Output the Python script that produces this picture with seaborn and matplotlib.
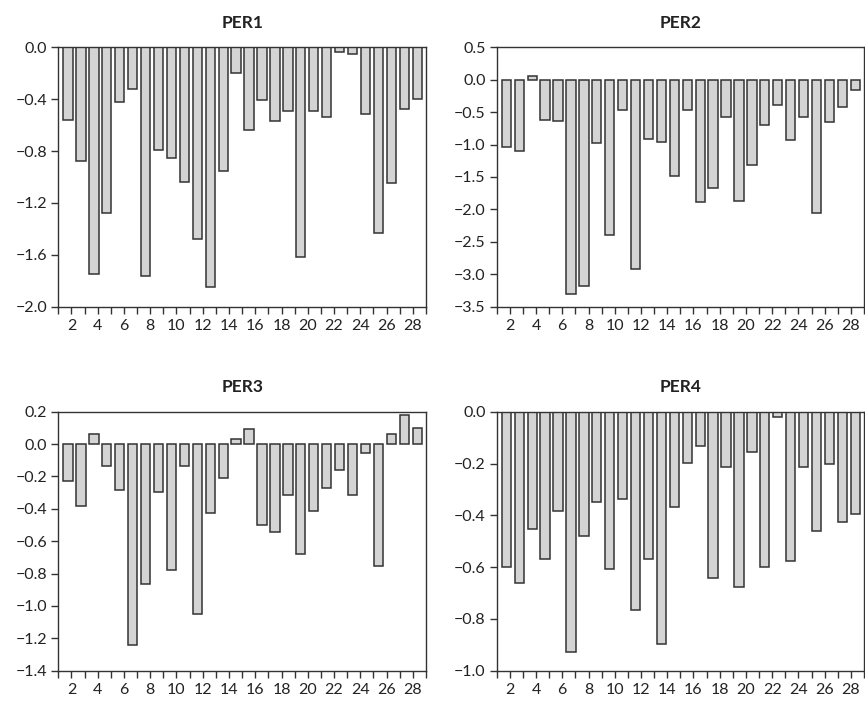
import numpy as np
import pandas as pd
import matplotlib
matplotlib.use("Agg")
import matplotlib.pyplot as plt
import seaborn as sns

# ---- data ----
items = list(range(1, 29))
per1 = [-0.56, -0.88, -1.75, -1.28, -0.42, -0.32, -1.76, -0.79, -0.85, -1.04,
        -1.475, -1.85, -0.95, -0.196, -0.635, -0.406, -0.566, -0.491, -1.62, -0.494,
        -0.54, -0.036, -0.054, -0.514, -1.43, -1.05, -0.473, -0.40]
per2 = [-1.04, -1.10, 0.05, -0.62, -0.64, -3.31, -3.18, -0.97, -2.40, -0.47,
        -2.92, -0.91, -0.956, -1.48, -0.473, -1.89, -1.675, -0.58, -1.875, -1.31,
        -0.694, -0.39, -0.93, -0.58, -2.06, -0.647, -0.42, -0.164]
per3 = [-0.227, -0.381, 0.064, -0.134, -0.282, -1.244, -0.865, -0.294, -0.78, -0.136,
        -1.048, -0.426, -0.212, 0.03, 0.093, -0.498, -0.544, -0.313, -0.678, -0.414,
        -0.274, -0.161, -0.313, -0.054, -0.754, 0.064, 0.181, 0.097]
per4 = [-0.598, -0.663, -0.453, -0.568, -0.384, -0.929, -0.481, -0.35, -0.609, -0.337,
        -0.764, -0.568, -0.898, -0.367, -0.198, -0.131, -0.642, -0.215, -0.677, -0.156,
        -0.598, -0.021, -0.575, -0.212, -0.462, -0.203, -0.426, -0.396]
titles = ["PER1", "PER2", "PER3", "PER4"]
series = [per1, per2, per3, per4]
ylims = [(-2.0, 0.0), (-3.5, 0.5), (-1.4, 0.2), (-1.0, 0.0)]
ysteps = [0.4, 0.5, 0.2, 0.2]
xtick_labels = [str(v) for v in range(2, 29, 2)]

# ---- style ----
sns.set_style("ticks")
plt.rcParams["font.family"] = ["Lato", "DejaVu Sans"]
dark = "#333333"
plt.rcParams.update({
    "axes.edgecolor": dark,
    "axes.linewidth": 1.0,
    "xtick.color": dark,
    "ytick.color": dark,
    "xtick.labelcolor": "#222222",
    "ytick.labelcolor": "#222222",
    "xtick.major.size": 5,
    "ytick.major.size": 5,
    "xtick.major.width": 1.0,
    "ytick.major.width": 1.0,
})

W, H = 865, 703
fig = plt.figure(figsize=(W / 100, H / 100), dpi=100)

# axes boxes in pixels: left, right, top, bottom
boxes = [(58.3, 426.0, 47.3, 306.7), (496.7, 864.0, 47.3, 306.7),
         (58.3, 426.0, 411.7, 670.7), (496.7, 864.0, 411.7, 670.7)]

xlo, xhi = 0.25, 28.68


def fmt(v):
    v = round(float(v), 2) + 0.0
    if abs(v) < 1e-9:
        v = 0.0
    s = f"{abs(v):.1f}"
    return ("\u2212" + s) if v < 0 else s


for title, vals, ylim, step, (l, r, t, b) in zip(titles, series, ylims, ysteps, boxes):
    ax = fig.add_axes([l / W, 1 - b / H, (r - l) / W, (b - t) / H])
    df = pd.DataFrame({"item": items, "value": vals})
    sns.barplot(data=df, x="item", y="value", native_scale=True, width=0.72,
                color="#d4d4d4", saturation=1, edgecolor="#333333", linewidth=1.1,
                ax=ax)
    ax.set_xlim(xlo, xhi)
    ax.set_ylim(*ylim)
    ticks = np.linspace(xlo, xhi, 29)
    ax.set_xticks(ticks)
    labels = [""] * 29
    for k, lab in zip(range(1, 29, 2), xtick_labels):
        labels[k] = lab
    ax.set_xticklabels(labels, fontsize=11.5)
    yt = np.arange(ylim[0], ylim[1] + step / 2, step)
    ax.set_yticks(yt)
    ax.set_yticklabels([fmt(v) for v in yt], fontsize=11.5)
    ax.tick_params(axis="x", pad=4)
    ax.tick_params(axis="y", pad=3)
    ax.set_xlabel("")
    ax.set_ylabel("")
    ax.set_title(title, fontsize=12.5, fontweight="bold", pad=14, color="#222222")
    for s in ax.spines.values():
        s.set_visible(True)

fig.savefig("out.png", dpi=100)
